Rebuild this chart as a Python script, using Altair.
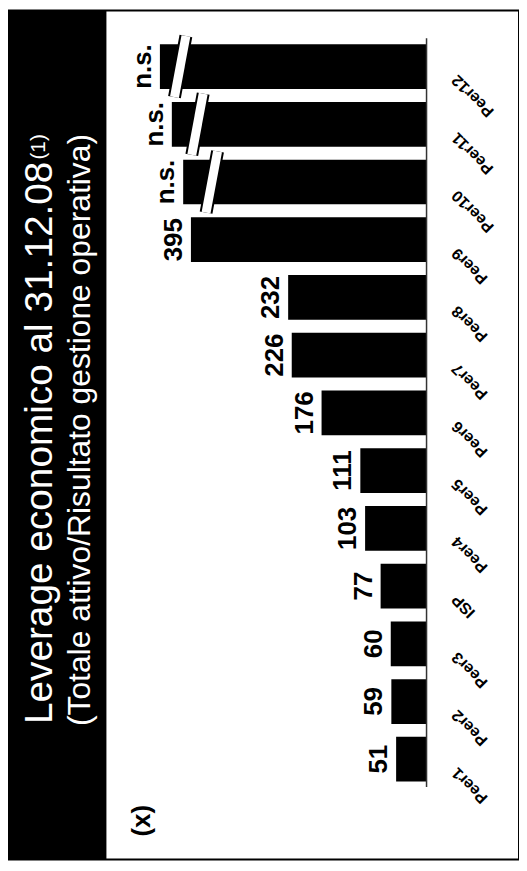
import altair as alt
import pandas as pd

# ---- data ----
categories = ["Peer1", "Peer2", "Peer3", "ISP", "Peer4", "Peer5", "Peer6",
              "Peer7", "Peer8", "Peer9", "Peer10", "Peer11", "Peer12"]
# plotted bar lengths (the last three are "n.s." bars drawn truncated)
bar_lengths = [51, 59, 60, 77, 103, 111, 176, 226, 232, 395, 408, 427, 447]
value_labels = ["51", "59", "60", "77", "103", "111", "176", "226", "232",
                "395", "n.s.", "n.s.", "n.s."]
# where the axis-break marks cross the "n.s." bars
break_at = [None, None, None, None, None, None, None, None, None, None,
            360, 384, 413]

title_line1 = "Leverage economico al 31.12.08"
title_sup = "(1)"
title_line2 = "(Totale attivo/Risultato gestione operativa)"
unit_label = "(x)"

FONT = "Liberation Sans"
W, H = 514, 854

df = pd.DataFrame({
    "cat": categories,
    "pos": list(range(1, len(categories) + 1)),
    "len": bar_lengths,
    "label": value_labels,
})

brk_rows = []
for p, b in zip(df["pos"], break_at):
    if b is not None:
        brk_rows.append({"pos": p, "x_top": b - 9.6, "x_bot": b + 9.6,
                         "y_top": p + 0.53, "y_bot": p - 0.53})
brk = pd.DataFrame(brk_rows)

axis_df = pd.DataFrame({"x": [0], "y1": [min(df["pos"]) - 0.48],
                        "y2": [max(df["pos"]) + 0.49]})

xs = alt.Scale(domain=[-155, 701.67], reverse=True, nice=False, zero=False)
ys = alt.Scale(domain=[-0.651, 13.885], nice=False, zero=False)

base = alt.Chart(df)

band = alt.Chart(pd.DataFrame({"a": [0]})).mark_rect(color="black").encode(
    x=alt.value(0), x2=alt.value(99), y=alt.value(0), y2=alt.value(H))

t1 = alt.Chart(pd.DataFrame({"t": [title_line1]})).mark_text(
    font=FONT, fontSize=39, color="white", angle=270, align="right",
    baseline="alphabetic").encode(x=alt.value(44), y=alt.value(152), text="t:N")
tsup = alt.Chart(pd.DataFrame({"t": [title_sup]})).mark_text(
    font=FONT, fontSize=21, color="white", angle=270, align="left",
    baseline="alphabetic").encode(x=alt.value(37), y=alt.value(150), text="t:N")
t2 = alt.Chart(pd.DataFrame({"t": [title_line2]})).mark_text(
    font=FONT, fontSize=32, color="white", angle=270, align="center",
    baseline="alphabetic").encode(x=alt.value(82), y=alt.value(422), text="t:N")
tx = alt.Chart(pd.DataFrame({"t": [unit_label]})).mark_text(
    font=FONT, fontSize=26, fontWeight="bold", color="black", angle=270,
    align="center", baseline="alphabetic").encode(
    x=alt.value(143), y=alt.value(815), text="t:N")

bars = base.mark_bar(orient="horizontal", size=45, color="black").encode(
    x=alt.X("len:Q", scale=xs, axis=None),
    y=alt.Y("pos:Q", scale=ys, axis=None),
)

brk_black = alt.Chart(brk).mark_rule(color="black", strokeWidth=13,
                                     strokeCap="butt").encode(
    x=alt.X("x_top:Q", scale=xs), x2="x_bot:Q",
    y=alt.Y("y_top:Q", scale=ys), y2="y_bot:Q")
brk_white = alt.Chart(brk).mark_rule(color="white", strokeWidth=9,
                                     strokeCap="butt").encode(
    x=alt.X("x_top:Q", scale=xs), x2="x_bot:Q",
    y=alt.Y("y_top:Q", scale=ys), y2="y_bot:Q")

axis_line = alt.Chart(axis_df).mark_rule(color="#333333", strokeWidth=1.5).encode(
    x=alt.X("x:Q", scale=xs), y=alt.Y("y1:Q", scale=ys), y2="y2:Q")

# offsets are applied in the rotated text frame: dy<0 moves left on screen
vals = base.mark_text(font=FONT, fontSize=26, fontWeight="bold", angle=270,
                      align="center", baseline="alphabetic", dy=-9,
                      color="black").encode(
    x=alt.X("len:Q", scale=xs), y=alt.Y("pos:Q", scale=ys), text="label:N")

# dx=dy=-7.8 in the 225-degree frame moves ~11px down on screen
cats = base.mark_text(font=FONT, fontSize=16, fontWeight="bold", angle=225,
                      align="right", baseline="middle", dx=-7.8, dy=-7.8,
                      color="black").encode(
    x=alt.value(449), y=alt.Y("pos:Q", scale=ys), text="cat:N")

chart = alt.layer(band, t1, tsup, t2, tx, bars, brk_black, brk_white,
                  axis_line, vals, cats).properties(
    width=W, height=H, padding=0, background="white",
    autosize=alt.AutoSizeParams(type="none"),
).configure_view(stroke="black", strokeWidth=2)

chart.save("out.html", embed_options={"renderer": "svg", "actions": False})
